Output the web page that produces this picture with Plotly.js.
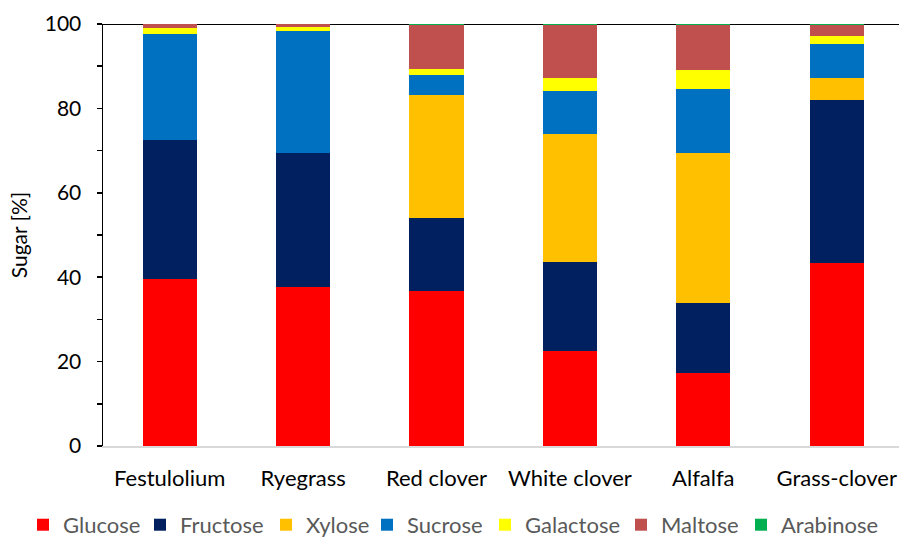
<!DOCTYPE html>
<html>
<head>
<meta charset="utf-8">
<script src="https://cdn.plot.ly/plotly-3.0.1.min.js"></script>
<style>
  html, body { margin: 0; padding: 0; background: #ffffff; }
  #chart { width: 899px; height: 538px; }
</style>
</head>
<body>
<div id="chart"></div>
<script>
// Forage types on the x axis
const categories = ['Festulolium', 'Ryegrass', 'Red clover', 'White clover', 'Alfalfa', 'Grass-clover'];

// Sugar composition, % of total sugar
const glucose   = [39.6, 37.7, 36.7, 22.5, 17.3, 43.4];
const fructose  = [32.9, 31.7, 17.3, 21.1, 16.6, 38.6];
const xylose    = [0.0,  0.0,  29.2, 30.3, 35.5, 5.1];
const sucrose   = [25.1, 29.0, 4.7,  10.2, 15.2, 8.2];
const galactose = [1.4,  0.8,  1.4,  3.2,  4.4,  1.9];
const maltose   = [1.0,  0.8,  10.5, 12.5, 10.8, 2.6];
const arabinose = [0.0,  0.0,  0.2,  0.2,  0.2,  0.2];

const seriesNames  = ['Glucose', 'Fructose', 'Xylose', 'Sucrose', 'Galactose', 'Maltose', 'Arabinose'];
const seriesValues = [glucose, fructose, xylose, sucrose, galactose, maltose, arabinose];
const seriesColors = ['#FF0000', '#002060', '#FFC000', '#0070C0', '#FFFF00', '#C0504D', '#00B050'];

const font = 'Lato, "Open Sans", "Liberation Sans", sans-serif';

const W = 899, H = 538;
const M = { l: 103, r: 0, t: 24, b: 92 };
const plotW = W - M.l - M.r;

// Each series gets its own one-entry legend so the key row can be spaced freely
const legendIds = seriesNames.map((_, i) => (i === 0 ? 'legend' : 'legend' + (i + 1)));
const legendLeft = [23, 140, 266, 367, 485, 621, 741]; // px from the left edge of the page

const traces = seriesNames.map((name, i) => ({
  type: 'bar',
  name: name,
  x: categories,
  y: seriesValues[i],
  marker: { color: seriesColors[i], line: { width: 0 } },
  legend: legendIds[i],
  hoverinfo: 'x+y+name'
}));

const layout = {
  width: W,
  height: H,
  barmode: 'stack',
  bargap: 0.595,
  paper_bgcolor: '#ffffff',
  plot_bgcolor: '#ffffff',
  margin: { l: M.l, r: M.r, t: M.t, b: M.b, autoexpand: false },
  font: { family: font, size: 21, color: '#000000' },
  xaxis: {
    type: 'category',
    range: [-0.5, 5.467],
    showline: true,
    linecolor: '#D9D9D9',
    linewidth: 1.5,
    ticks: '',
    ticklabelstandoff: 12,
    tickfont: { family: font, size: 22, color: '#000000' },
    showgrid: false,
    zeroline: false,
    fixedrange: true
  },
  yaxis: {
    range: [0, 100],
    dtick: 20,
    tick0: 0,
    showline: true,
    linecolor: '#000000',
    linewidth: 1.5,
    ticks: 'outside',
    ticklen: 5,
    tickwidth: 1.5,
    tickcolor: '#000000',
    minor: { dtick: 10, ticks: 'outside', ticklen: 5, tickwidth: 1.5, tickcolor: '#000000' },
    ticklabelstandoff: 11,
    tickfont: { family: font, size: 21, color: '#000000' },
    showgrid: false,
    zeroline: false,
    title: { text: 'Sugar [%]', font: { family: font, size: 21, color: '#000000' }, standoff: 11 },
    fixedrange: true
  },
  shapes: [{
    type: 'line', xref: 'paper', yref: 'y',
    x0: 0, x1: 1, y0: 100, y1: 100,
    line: { color: '#000000', width: 2 },
    layer: 'below'
  }],
  showlegend: true
};

legendIds.forEach((id, i) => {
  layout[id] = {
    orientation: 'h',
    x: (legendLeft[i] - M.l) / plotW, xref: 'paper', xanchor: 'left',
    y: -0.187, yanchor: 'middle',
    font: { family: font, size: 22, color: '#595959' },
    itemwidth: 30,
    bgcolor: 'rgba(0,0,0,0)'
  };
});

Plotly.newPlot('chart', traces, layout, { displayModeBar: false, staticPlot: true });
</script>
</body>
</html>
